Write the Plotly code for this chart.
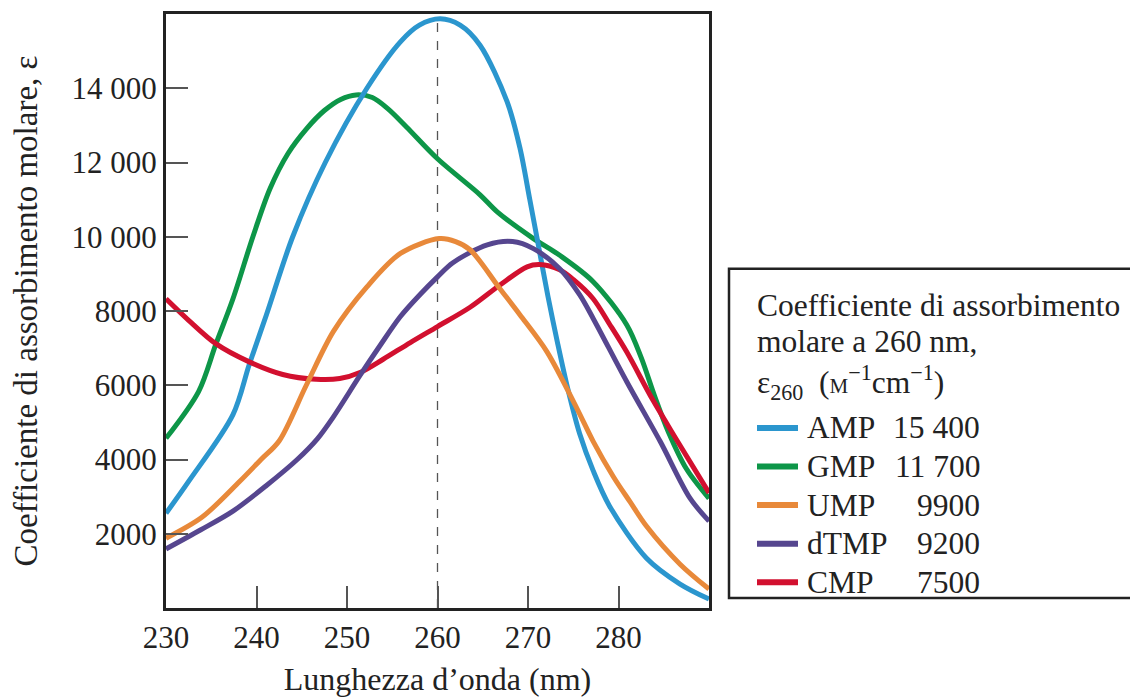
import plotly.graph_objects as go

# absorption spectra (wavelength nm, molar absorption coefficient)
amp_x = [230, 232.5, 237.4, 239.2, 241.1, 244.0, 247.6, 252.2, 255.9, 258.0, 260.3, 262.5, 264.7,
         267.7, 269.1, 270.2, 271.2, 272.2, 273.3, 274.4, 275.7, 277.2, 279.0, 283.1, 286.8, 290]
amp_y = [2550, 3410, 5210, 6560, 7900, 10000, 12000, 14000, 15250, 15700, 15870, 15700, 15160,
         13630, 12400, 11000, 9700, 8400, 7100, 5900, 4700, 3700, 2750, 1340, 645, 240]

gmp_x = [230, 233.6, 235.5, 237.4, 239.6, 241.5, 243.5, 245.5, 247.5, 249.3, 251.0, 252.8, 254.5,
         256.6, 260.0, 264.7, 266.6, 270.6, 273.5, 277.2, 280.9, 282.5, 284.0, 285.5, 287.5, 290]
gmp_y = [4570, 5830, 7100, 8330, 10000, 11300, 12250, 12900, 13400, 13700, 13820, 13750, 13450,
         12950, 12100, 11130, 10670, 9950, 9500, 8790, 7630, 6750, 5700, 4750, 3750, 2950]

ump_x = [230, 234.0, 238.1, 240.5, 242.5, 245.5, 248.5, 252.2, 255.9, 260.2, 262.0, 263.6, 266.9,
         269.1, 272.1, 275.4, 277.2, 279.4, 281.3, 283.1, 286.8, 290]
ump_y = [1880, 2450, 3400, 4000, 4500, 6000, 7450, 8650, 9550, 9950, 9870, 9650, 8600,
         7900, 6900, 5380, 4490, 3550, 2850, 2200, 1180, 510]

dtmp_x = [230, 233.8, 237.4, 241.1, 244.5, 246.7, 248.5, 251.4, 253.6, 255.9, 258.1, 260.0,
          261.7, 265.5, 268.3, 270.6, 273.5, 275.7, 277.2, 280.9, 284.6, 287.9, 290]
dtmp_y = [1590, 2100, 2610, 3300, 4000, 4550, 5150, 6250, 7050, 7850, 8450, 8920,
          9300, 9780, 9870, 9680, 9140, 8440, 7800, 6100, 4490, 2960, 2340]

cmp_x = [230, 232.5, 235.5, 239.2, 242.9, 246.6, 249.2, 251.5, 254.0, 257.0, 260.0, 263.6, 266.9,
         269.9, 271.3, 273.5, 275.0, 277.2, 279.0, 280.9, 283.8, 286.5, 290]
cmp_y = [8330, 7750, 7120, 6630, 6290, 6160, 6180, 6350, 6700, 7150, 7580, 8100, 8700,
         9190, 9250, 9110, 8850, 8330, 7650, 6900, 5600, 4500, 3100]

names = ["AMP", "GMP", "UMP", "dTMP", "CMP"]
eps260 = ["15 400", "11 700", "9900", "9200", "7500"]
colors = ["#2B96CE", "#0D9648", "#E8893A", "#56468F", "#D2102F"]

x_ticks = [230, 240, 250, 260, 270, 280]
y_ticks = [2000, 4000, 6000, 8000, 10000, 12000, 14000]
y_ticktext = ["2000", "4000", "6000", "8000", "10 000", "12 000", "14 000"]

FONT = "Liberation Serif"
OFF = 8  # page body margin
W, H = 1138 - OFF, 698 - OFF
L, R, T, B = 166 - OFF, 429, 11 - OFF, 90


def px(xp):
    return (xp - OFF - L) / (W - L - R)


def py(yp):
    return (H - B - (yp - OFF)) / (H - T - B)


series = {
    "AMP": (amp_x, amp_y),
    "GMP": (gmp_x, gmp_y),
    "UMP": (ump_x, ump_y),
    "dTMP": (dtmp_x, dtmp_y),
    "CMP": (cmp_x, cmp_y),
}
col = dict(zip(names, colors))

fig = go.Figure()
for n in ["GMP", "AMP", "CMP", "dTMP", "UMP"]:
    xs, ys = series[n]
    fig.add_trace(go.Scatter(x=xs, y=ys, mode="lines", name=n, showlegend=False,
                             line=dict(color=col[n], width=5, shape="spline", smoothing=0.9)))

# dashed line at 260 nm
fig.add_shape(type="line", xref="x", yref="paper", x0=260, x1=260, y0=0, y1=1,
              line=dict(color="#555", width=1.3, dash="dash"), layer="below")

# legend drawn by hand
fig.add_shape(type="rect", xref="paper", yref="paper", x0=px(729), x1=px(1160), y0=py(598), y1=py(267),
              line=dict(color="#222", width=2.5), fillcolor="white")
head = ["Coefficiente di assorbimento", "molare a 260 nm,",
        "ε<sub>260</sub>  (<span style='font-size:21px'>M</span><sup>−1</sup>cm<sup>−1</sup>)"]
for i, t in enumerate(head):
    fig.add_annotation(text=t, xref="paper", yref="paper", x=px(755), y=py([304, 340, 381][i]),
                       xanchor="left", yanchor="middle", showarrow=False,
                       font=dict(family=FONT, size=31.5, color="#222"))
for i, (n, v, c) in enumerate(zip(names, eps260, colors)):
    yy = py(427 + i * 38.8)
    fig.add_shape(type="line", xref="paper", yref="paper", x0=px(757), x1=px(798), y0=yy, y1=yy,
                  line=dict(color=c, width=6))
    fig.add_annotation(text=n, xref="paper", yref="paper", x=px(805), y=yy, xanchor="left",
                       yanchor="middle", showarrow=False, font=dict(family=FONT, size=31.5, color="#222"))
    fig.add_annotation(text=v, xref="paper", yref="paper", x=px(982), y=yy, xanchor="right",
                       yanchor="middle", showarrow=False, font=dict(family=FONT, size=31.5, color="#222"))

fig.update_xaxes(range=[230, 290], tickvals=x_ticks, ticks="inside", ticklen=22, tickwidth=1.5,
                 tickcolor="#555", showline=True, linewidth=3, linecolor="#222", mirror=True,
                 showgrid=False, zeroline=False, ticklabelstandoff=0,
                 tickfont=dict(family=FONT, size=31, color="#222"),
                 title=dict(text="Lunghezza d’onda (nm)", standoff=14,
                            font=dict(family=FONT, size=32, color="#222")))
fig.update_yaxes(range=[0, 16000], tickvals=y_ticks, ticktext=y_ticktext, ticks="inside", ticklen=22,
                 tickwidth=1.5, tickcolor="#555", showline=True, linewidth=3, linecolor="#222",
                 mirror=True, showgrid=False, zeroline=False, ticklabelstandoff=0,
                 tickfont=dict(family=FONT, size=31, color="#222"),
                 title=dict(text="Coefficiente di assorbimento molare, ε", standoff=24,
                            font=dict(family=FONT, size=33, color="#222")))

fig.update_layout(width=W, height=H, margin=dict(l=L, r=R, t=T, b=B),
                  paper_bgcolor="white", plot_bgcolor="white")

fig.write_html("out.html")
